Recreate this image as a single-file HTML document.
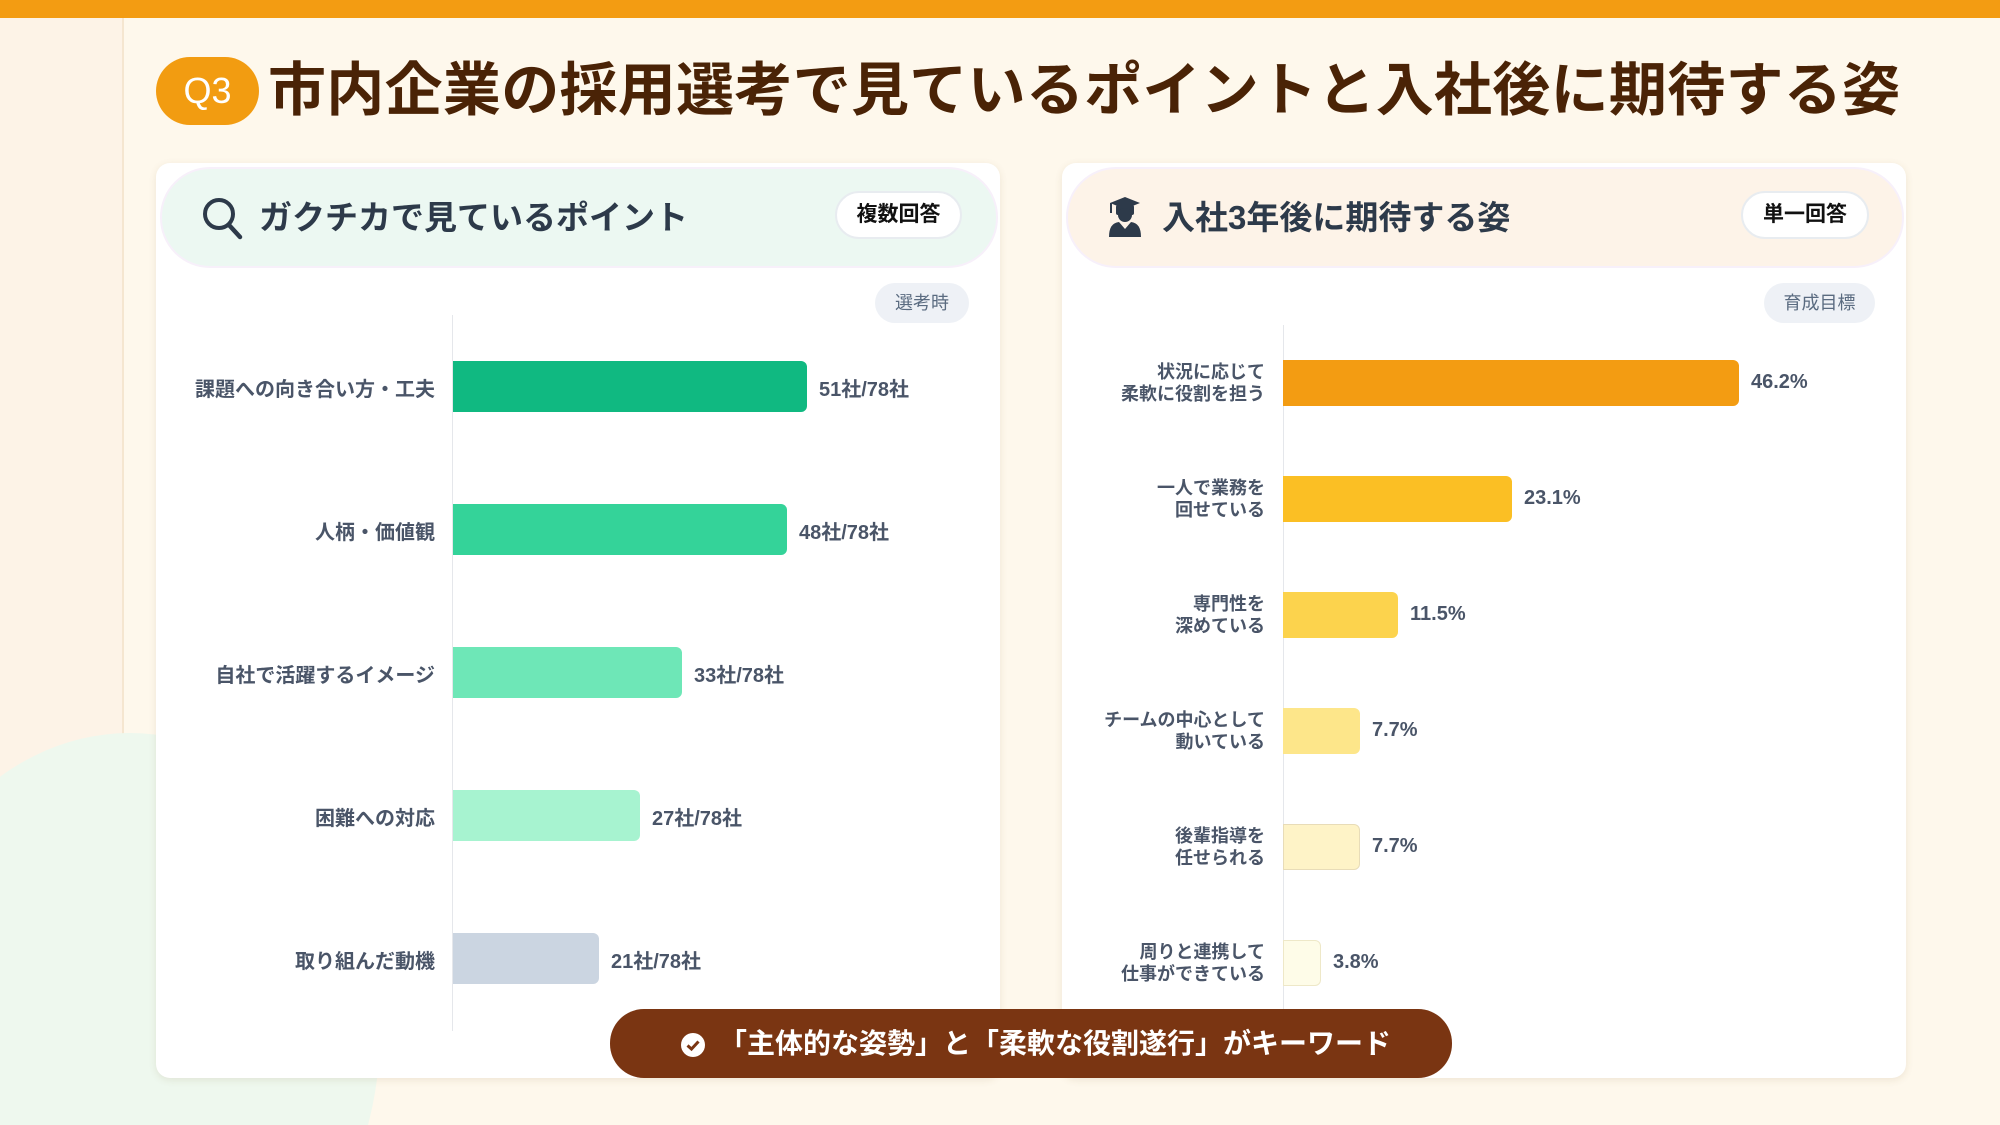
<!DOCTYPE html>
<html><head><meta charset="utf-8"><style>
*{margin:0;padding:0;box-sizing:border-box}
html,body{width:2000px;height:1125px;overflow:hidden}
body{background:#fef8ec;font-family:"Liberation Sans","Noto Sans CJK JP",sans-serif}
#root{position:relative;width:2000px;height:1125px;overflow:hidden;background:#fef8ec}
.abs{position:absolute}
.card{position:absolute;top:163px;height:915px;background:#fff;border-radius:14px;box-shadow:0 2px 8px rgba(120,90,40,.12)}
.hdr{position:absolute;left:4px;right:2px;top:4px;height:101px;border-radius:50px;border:2px solid #f7f0fa}
.htitle{position:absolute;top:0;line-height:101px;font-size:33px;font-weight:bold;color:#2d3a4a}
.badge{position:absolute;height:48px;border-radius:24px;background:#fff;border:2px solid #e8ecf0;font-size:21px;font-weight:bold;color:#111;text-align:center;line-height:44px}
.tag{position:absolute;height:40px;border-radius:20px;background:#eef1f6;color:#5a6b80;font-size:18px;text-align:center;line-height:40px}
.bar{position:absolute;border-radius:0 6px 6px 0}
.lbl{position:absolute;text-align:right;font-weight:bold;color:#4a5568;font-size:20px}
.val{position:absolute;font-weight:bold;color:#4a5568;font-size:20px}
.rl{position:absolute;text-align:right;font-weight:bold;color:#4a5568;font-size:18px;line-height:22px;width:300px}
</style></head><body><div id="root">
<div class="abs" style="left:0;top:0;width:2000px;height:18px;background:#f39c12"></div>
<div class="abs" style="left:0;top:18px;width:124px;height:1107px;background:#fdf3e7;border-right:2px solid #f5e6d0"></div>
<svg class="abs" style="left:0;top:733px" width="400" height="392" viewBox="0 0 400 392"><ellipse cx="130" cy="300" rx="250" ry="300" fill="#eef8ee"/></svg>
<div class="abs" style="left:156px;top:57px;width:103px;height:68px;border-radius:34px;background:#f29c11;color:#fff;font-size:36px;text-align:center;line-height:68px">Q3</div>
<div class="abs" style="left:268px;top:55px;font-size:58px;letter-spacing:0.3px;font-weight:bold;color:#4a2306;line-height:72px;white-space:nowrap">市内企業の採用選考で見ているポイントと入社後に期待する姿</div>

<div class="card" style="left:156px;width:844px">
 <div class="hdr" style="background:#ecf8f2"></div>
 <svg class="abs" style="left:44px;top:32px" width="44" height="46" viewBox="0 0 44 46"><circle cx="19" cy="19" r="14" fill="none" stroke="#2d3a4a" stroke-width="4"/><line x1="29" y1="30" x2="40" y2="42" stroke="#2d3a4a" stroke-width="4.5" stroke-linecap="round"/></svg>
 <div class="htitle" style="left:103px;top:4px">ガクチカで見ているポイント</div>
 <div class="badge" style="left:679px;top:28px;width:127px">複数回答</div>
 <div class="tag" style="left:719px;top:120px;width:94px">選考時</div>
 <div class="abs" style="left:296px;top:152px;width:1px;height:716px;background:#e5e7eb"></div>
</div>
<div class="bar" style="left:453px;top:361px;width:354px;height:51px;background:#10b981"></div>
<div class="bar" style="left:453px;top:504px;width:334px;height:51px;background:#34d399"></div>
<div class="bar" style="left:453px;top:647px;width:229px;height:51px;background:#6ee7b7"></div>
<div class="bar" style="left:453px;top:790px;width:187px;height:51px;background:#a7f3d0"></div>
<div class="bar" style="left:453px;top:933px;width:146px;height:51px;background:#cbd5e1"></div>
<div class="lbl" style="right:1565px;top:373px">課題への向き合い方・工夫</div>
<div class="lbl" style="right:1565px;top:516px">人柄・価値観</div>
<div class="lbl" style="right:1565px;top:659px">自社で活躍するイメージ</div>
<div class="lbl" style="right:1565px;top:802px">困難への対応</div>
<div class="lbl" style="right:1565px;top:945px">取り組んだ動機</div>
<div class="val" style="left:819px;top:373px">51社/78社</div>
<div class="val" style="left:799px;top:516px">48社/78社</div>
<div class="val" style="left:694px;top:659px">33社/78社</div>
<div class="val" style="left:652px;top:802px">27社/78社</div>
<div class="val" style="left:611px;top:945px">21社/78社</div>

<div class="card" style="left:1062px;width:844px">
 <div class="hdr" style="background:#fdf3e8"></div>
 <svg class="abs" style="left:45px;top:34px" width="36" height="40" viewBox="0 0 36 40"><path d="M3 6 L18 0 L33 6 L18 12 Z" fill="#2d3a4a"/><rect x="9" y="8" width="18" height="10" rx="2" fill="#2d3a4a"/><circle cx="18" cy="18" r="7" fill="#2d3a4a"/><path d="M2 40 Q2 26 12 25 L18 32 L24 25 Q34 26 34 40 Z" fill="#2d3a4a"/><line x1="4" y1="6" x2="4" y2="16" stroke="#2d3a4a" stroke-width="2"/></svg>
 <div class="htitle" style="left:100px;top:4px">入社3年後に期待する姿</div>
 <div class="badge" style="left:679px;top:28px;width:128px">単一回答</div>
 <div class="tag" style="left:702px;top:120px;width:111px">育成目標</div>
 <div class="abs" style="left:221px;top:162px;width:1px;height:720px;background:#e5e7eb"></div>
</div>
<div class="bar" style="left:1283px;top:360px;width:456px;height:46px;background:#f39c12"></div>
<div class="bar" style="left:1283px;top:476px;width:229px;height:46px;background:#fbbf24"></div>
<div class="bar" style="left:1283px;top:592px;width:115px;height:46px;background:#fcd34d"></div>
<div class="bar" style="left:1283px;top:708px;width:77px;height:46px;background:#fde68a"></div>
<div class="bar" style="left:1283px;top:824px;width:77px;height:46px;background:#fef3c7;border:1px solid #e8dcb8"></div>
<div class="bar" style="left:1283px;top:940px;width:38px;height:46px;background:#fefce8;border:1px solid #eee8c8"></div>
<div class="rl" style="left:965px;top:361px">状況に応じて<br>柔軟に役割を担う</div>
<div class="rl" style="left:965px;top:477px">一人で業務を<br>回せている</div>
<div class="rl" style="left:965px;top:593px">専門性を<br>深めている</div>
<div class="rl" style="left:965px;top:709px">チームの中心として<br>動いている</div>
<div class="rl" style="left:965px;top:825px">後輩指導を<br>任せられる</div>
<div class="rl" style="left:965px;top:941px">周りと連携して<br>仕事ができている</div>
<div class="val" style="left:1751px;top:371px">46.2%</div>
<div class="val" style="left:1524px;top:487px">23.1%</div>
<div class="val" style="left:1410px;top:603px">11.5%</div>
<div class="val" style="left:1372px;top:719px">7.7%</div>
<div class="val" style="left:1372px;top:835px">7.7%</div>
<div class="val" style="left:1333px;top:951px">3.8%</div>

<div class="abs" style="left:610px;top:1009px;width:842px;height:69px;border-radius:34px;background:#7a3512;color:#fff;font-size:28px;font-weight:bold;line-height:69px;text-align:center;padding-left:10px">
<svg style="vertical-align:-4px;margin-right:14px" width="24" height="24" viewBox="0 0 24 24"><circle cx="12" cy="12" r="12" fill="#fff"/><path d="M6.5 12.5 L10.5 16 L17.5 8.5" fill="none" stroke="#7a3512" stroke-width="3"/></svg>「主体的な姿勢」と「柔軟な役割遂行」がキーワード</div>
</div></body></html>
